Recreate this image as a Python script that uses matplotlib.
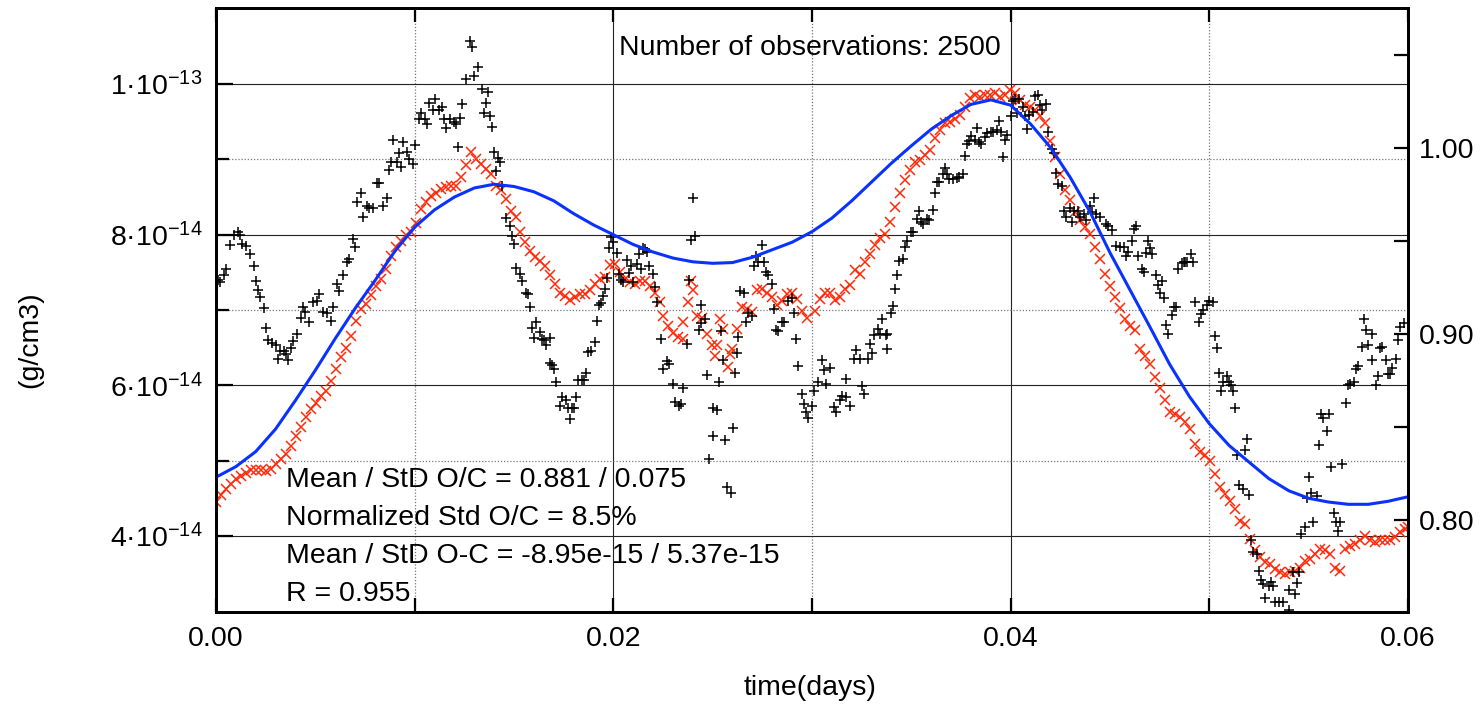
import numpy as np
import matplotlib
matplotlib.use('Agg')
import matplotlib.pyplot as plt

plt.rcParams['font.family'] = ['Liberation Sans', 'DejaVu Sans']
plt.rcParams['mathtext.fontset'] = 'custom'
plt.rcParams['mathtext.rm'] = 'Liberation Sans'
plt.rcParams['mathtext.it'] = 'Liberation Sans:italic'
plt.rcParams['mathtext.bf'] = 'Liberation Sans:bold'

UNIT = 1e-14  # density values below are in units of 1e-14 g/cm3

# ---- model (blue curve), sampled every 0.001 day ----
model_t = np.round(np.arange(61) * 0.001, 4)
model_v = [4.78, 4.92, 5.12, 5.42, 5.80, 6.20, 6.62, 7.02, 7.39, 7.78,
           8.10, 8.33, 8.50, 8.62, 8.67, 8.64, 8.57, 8.45, 8.28, 8.13,
           8.00, 7.87, 7.77, 7.69, 7.64, 7.62, 7.63, 7.70, 7.80, 7.90,
           8.04, 8.22, 8.45, 8.70, 8.95, 9.18, 9.40, 9.58, 9.73, 9.79,
           9.72, 9.47, 9.16, 8.76, 8.30, 7.76, 7.27, 6.78, 6.28, 5.85,
           5.49, 5.20, 4.98, 4.76, 4.60, 4.50, 4.45, 4.42, 4.42, 4.46,
           4.52]

# ---- fitted / scaled series (red x) ----
fit_t = [0.00000, 0.00025, 0.00050, 0.00076, 0.00101, 0.00126, 0.00151, 0.00176, 0.00201, 0.00227,
         0.00252, 0.00277, 0.00302, 0.00327, 0.00352, 0.00378, 0.00403, 0.00428, 0.00453, 0.00478,
         0.00503, 0.00529, 0.00554, 0.00579, 0.00604, 0.00629, 0.00654, 0.00680, 0.00705, 0.00730,
         0.00755, 0.00780, 0.00805, 0.00831, 0.00856, 0.00881, 0.00906, 0.00931, 0.00956, 0.00982,
         0.01007, 0.01032, 0.01057, 0.01082, 0.01107, 0.01133, 0.01158, 0.01183, 0.01208, 0.01233,
         0.01259, 0.01284, 0.01309, 0.01334, 0.01359, 0.01384, 0.01410, 0.01435, 0.01460, 0.01485,
         0.01510,
         0.01530, 0.01555, 0.01580, 0.01606, 0.01631, 0.01656, 0.01681, 0.01707, 0.01732, 0.01757,
         0.01782, 0.01807, 0.01832, 0.01858, 0.01883, 0.01908, 0.01933, 0.01958, 0.01983, 0.02009,
         0.02034, 0.02059, 0.02084, 0.02109, 0.02134, 0.02160, 0.02185, 0.02210, 0.02235, 0.02252,
         0.02277, 0.02302, 0.02327, 0.02353, 0.02353, 0.02378, 0.02390, 0.02400, 0.02420, 0.02445,
         0.02470, 0.02495, 0.02512, 0.02520, 0.02537, 0.02554, 0.02579, 0.02585, 0.02596, 0.02621,
         0.02646, 0.02671, 0.02697, 0.02722, 0.02747, 0.02772, 0.02797, 0.02822, 0.02848, 0.02873,
         0.02898, 0.02923, 0.02948, 0.02973,
         0.03015, 0.03040, 0.03066, 0.03091, 0.03116, 0.03141, 0.03166, 0.03192, 0.03217, 0.03242,
         0.03267, 0.03292, 0.03317, 0.03343, 0.03368, 0.03393, 0.03418, 0.03443, 0.03468, 0.03494,
         0.03519, 0.03544, 0.03569, 0.03594, 0.03620, 0.03645, 0.03670, 0.03695, 0.03720, 0.03745,
         0.03771, 0.03796, 0.03821, 0.03846, 0.03871, 0.03896, 0.03921, 0.03947, 0.03972, 0.03997,
         0.04022, 0.04047, 0.04072, 0.04098, 0.04123, 0.04148, 0.04173, 0.04198, 0.04223, 0.04249,
         0.04274, 0.04299, 0.04324, 0.04349, 0.04374, 0.04400, 0.04425, 0.04450, 0.04475,
         0.04500, 0.04525, 0.04550, 0.04576, 0.04601, 0.04626, 0.04651, 0.04676, 0.04702, 0.04727,
         0.04752, 0.04777, 0.04802, 0.04827, 0.04853, 0.04878, 0.04903, 0.04928, 0.04953, 0.04978,
         0.05004, 0.05029, 0.05054, 0.05079, 0.05104, 0.05129, 0.05155, 0.05180, 0.05205, 0.05230,
         0.05255, 0.05280, 0.05306, 0.05331, 0.05356, 0.05381, 0.05406, 0.05431, 0.05457, 0.05482,
         0.05507, 0.05532, 0.05557, 0.05582, 0.05608, 0.05633, 0.05658, 0.05683, 0.05708, 0.05734,
         0.05759, 0.05784, 0.05809, 0.05834, 0.05859, 0.05884, 0.05910, 0.05935, 0.05960, 0.05985,
         0.06000]
fit_v = [4.45, 4.54, 4.62, 4.69, 4.76, 4.80, 4.83, 4.87, 4.88, 4.87,
         4.86, 4.89, 4.96, 5.02, 5.09, 5.20, 5.33, 5.45, 5.58, 5.69,
         5.77, 5.86, 5.93, 6.06, 6.22, 6.37, 6.50, 6.66, 6.86, 7.01,
         7.08, 7.20, 7.32, 7.41, 7.54, 7.72, 7.84, 7.92, 7.99, 8.03,
         8.16, 8.34, 8.43, 8.52, 8.56, 8.61, 8.63, 8.65, 8.64, 8.76,
         8.92, 9.10, 9.01, 8.94, 8.87, 8.81, 8.65, 8.59, 8.47, 8.32,
         8.23,
         8.03, 7.90, 7.79, 7.70, 7.65, 7.59, 7.46, 7.35, 7.23, 7.19,
         7.13, 7.17, 7.21, 7.21, 7.27, 7.35, 7.41, 7.44, 7.60, 7.61,
         7.50, 7.41, 7.37, 7.34, 7.39, 7.39, 7.32, 7.23, 7.10, 6.92,
         6.79, 6.70, 6.64, 6.62, 6.84, 7.10, 7.39, 7.27, 6.92, 6.90,
         6.68, 6.53, 6.39, 6.54, 6.88, 6.75, 6.24, 6.42, 6.48, 6.75,
         7.04, 7.01, 6.97, 7.26, 7.28, 7.23, 7.17, 7.06, 7.12, 7.21,
         7.23, 7.15, 6.99, 6.90,
         6.99, 7.15, 7.22, 7.22, 7.13, 7.17, 7.28, 7.33, 7.53, 7.48,
         7.64, 7.75, 7.86, 7.95, 8.01, 8.17, 8.37, 8.55, 8.72, 8.86,
         8.97, 8.99, 9.06, 9.12, 9.28, 9.39, 9.48, 9.50, 9.54, 9.59,
         9.70, 9.81, 9.85, 9.83, 9.85, 9.85, 9.88, 9.83, 9.85, 9.92,
         9.88, 9.79, 9.72, 9.70, 9.65, 9.57, 9.48, 9.25, 9.03, 8.81,
         8.59, 8.46, 8.30, 8.19, 8.10, 8.01, 7.84, 7.68, 7.48,
         7.32, 7.17, 7.03, 6.88, 6.79, 6.73, 6.48, 6.39, 6.28, 6.11,
         5.97, 5.80, 5.64, 5.62, 5.58, 5.51, 5.42, 5.22, 5.11, 5.07,
         5.00, 4.82, 4.65, 4.56, 4.47, 4.36, 4.20, 4.16, 3.96, 3.81,
         3.72, 3.65, 3.63, 3.56, 3.52, 3.50, 3.52, 3.54, 3.58, 3.67,
         3.69, 3.76, 3.83, 3.81, 3.76, 3.58, 3.54, 3.83, 3.87, 3.89,
         3.94, 4.00, 3.94, 3.92, 3.94, 3.94, 3.94, 3.98, 4.05, 4.09,
         4.12]

# ---- observations (black +) ----
obs_t = [0.0001, 0.0002, 0.0004, 0.0005, 0.0007, 0.0009, 0.0011, 0.0012, 0.0013, 0.0015,
         0.0017, 0.0019, 0.0020, 0.0021, 0.0022, 0.0024, 0.0025, 0.0026, 0.0028, 0.0030,
         0.0031, 0.0032, 0.0034, 0.0035, 0.0036, 0.0038, 0.0039, 0.0041, 0.0043, 0.0044,
         0.0045, 0.0047, 0.0049, 0.0051, 0.0052, 0.0054, 0.0056, 0.0058, 0.0059, 0.0061,
         0.0062, 0.0064, 0.0066, 0.0067, 0.0069, 0.0070, 0.0071, 0.0073, 0.0074, 0.0076,
         0.0077, 0.0079, 0.0081, 0.0082, 0.0084, 0.0086, 0.0087, 0.0088, 0.0089, 0.0091,
         0.0092, 0.0093, 0.0094, 0.0096, 0.0097, 0.0099, 0.0100, 0.0102, 0.0103, 0.0105,
         0.0106, 0.0107, 0.0109, 0.0110, 0.0112, 0.0114, 0.0115, 0.0116, 0.0118, 0.0120,
         0.0121, 0.0122, 0.0123, 0.0124, 0.0126, 0.0128, 0.0129, 0.0130, 0.0132, 0.0134,
         0.0135, 0.0136, 0.0137, 0.0138, 0.0139, 0.0140, 0.0141, 0.0142, 0.0143, 0.0144,
         0.0146, 0.0148, 0.0149, 0.0150, 0.0151,
         0.0153, 0.0154, 0.0156, 0.0157, 0.0158, 0.0159, 0.0160, 0.0161, 0.0163, 0.0164,
         0.0165, 0.0166, 0.0168, 0.0168, 0.0169, 0.0170, 0.0171, 0.0173, 0.0174, 0.0176,
         0.0177, 0.0178, 0.0179, 0.0180, 0.0181, 0.0182, 0.0184, 0.0185, 0.0186, 0.0187,
         0.0189, 0.0191, 0.0192, 0.0193, 0.0194, 0.0195, 0.0196, 0.0197, 0.0198, 0.0199,
         0.0200, 0.0202, 0.0203, 0.0204, 0.0205, 0.0207, 0.0208, 0.0209, 0.0210, 0.0212,
         0.0213, 0.0214, 0.0215, 0.0216, 0.0217, 0.0218, 0.0220, 0.0221, 0.0222, 0.0224,
         0.0225, 0.0227, 0.0228, 0.0230, 0.0231, 0.0233, 0.0234, 0.0235, 0.0237, 0.0238,
         0.0239, 0.0240, 0.0241, 0.0243, 0.0244, 0.0244, 0.0246, 0.0247, 0.0248, 0.0250,
         0.0250, 0.0252, 0.0253, 0.0254, 0.0255, 0.0256, 0.0257, 0.0259, 0.0260, 0.0261,
         0.0262, 0.0263, 0.0264, 0.0266, 0.0267, 0.0268, 0.0270, 0.0271, 0.0272, 0.0273,
         0.0275, 0.0276, 0.0277, 0.0278, 0.0280, 0.0281, 0.0282, 0.0283, 0.0285, 0.0286,
         0.0288, 0.0290, 0.0291, 0.0292, 0.0293, 0.0295, 0.0296, 0.0297, 0.0298, 0.0300,
         0.0301,
         0.0303, 0.0305, 0.0306, 0.0307, 0.0309, 0.0311, 0.0312, 0.0314, 0.0315, 0.0317,
         0.0317, 0.0319, 0.0321, 0.0322, 0.0324, 0.0325, 0.0326, 0.0328, 0.0329, 0.0330,
         0.0331, 0.0333, 0.0334, 0.0335, 0.0337, 0.0338, 0.0338, 0.0340, 0.0341, 0.0342,
         0.0343, 0.0344, 0.0346, 0.0347, 0.0348, 0.0350, 0.0351, 0.0353, 0.0354, 0.0355,
         0.0356, 0.0358, 0.0359, 0.0361, 0.0362, 0.0363, 0.0364, 0.0366, 0.0367, 0.0368,
         0.0369, 0.0371, 0.0373, 0.0374, 0.0376, 0.0377, 0.0378, 0.0379, 0.0380, 0.0382,
         0.0383, 0.0384, 0.0385, 0.0387, 0.0388, 0.0390, 0.0391, 0.0393, 0.0394, 0.0395,
         0.0396, 0.0397, 0.0398, 0.0400, 0.0401, 0.0402, 0.0403, 0.0404, 0.0406, 0.0407,
         0.0408, 0.0409, 0.0411, 0.0412, 0.0414, 0.0415, 0.0416, 0.0418, 0.0419, 0.0421,
         0.0422, 0.0423, 0.0424, 0.0426, 0.0427, 0.0428, 0.0430, 0.0431, 0.0432, 0.0434,
         0.0435, 0.0437, 0.0438, 0.0440, 0.0441, 0.0442, 0.0443, 0.0445,
         0.0448, 0.0449, 0.0451, 0.0453, 0.0455, 0.0457, 0.0458, 0.0459, 0.0461, 0.0462,
         0.0463, 0.0464, 0.0466, 0.0467, 0.0468, 0.0469, 0.0470, 0.0471, 0.0473, 0.0474,
         0.0475, 0.0476, 0.0477, 0.0478, 0.0479, 0.0481, 0.0482, 0.0483, 0.0484, 0.0486,
         0.0487, 0.0488, 0.0489, 0.0491, 0.0492, 0.0493, 0.0495, 0.0496, 0.0497, 0.0499,
         0.0500, 0.0502, 0.0503, 0.0504, 0.0505, 0.0506, 0.0507, 0.0509, 0.0510, 0.0511,
         0.0512, 0.0513, 0.0514, 0.0515, 0.0517, 0.0518, 0.0519, 0.0520, 0.0521, 0.0522,
         0.0524, 0.0525, 0.0526, 0.0527, 0.0528, 0.0530, 0.0531, 0.0532, 0.0533, 0.0535,
         0.0537, 0.0540, 0.0540, 0.0542, 0.0543, 0.0544, 0.0545, 0.0546, 0.0548, 0.0549,
         0.0550, 0.0551, 0.0552, 0.0554, 0.0555, 0.0556, 0.0557, 0.0559, 0.0560, 0.0561,
         0.0563, 0.0564, 0.0565, 0.0566, 0.0567, 0.0569, 0.0570, 0.0571, 0.0573, 0.0574,
         0.0575, 0.0577, 0.0578, 0.0579, 0.0580, 0.0582, 0.0582, 0.0584, 0.0585, 0.0586,
         0.0587, 0.0589, 0.0590, 0.0591, 0.0592, 0.0594, 0.0595, 0.0596, 0.0598]
obs_v = [7.40, 7.37, 7.46, 7.55, 7.86, 8.00, 8.03, 8.00, 7.88, 7.85,
         7.75, 7.59, 7.38, 7.27, 7.17, 7.02, 6.76, 6.60, 6.56, 6.54,
         6.35, 6.46, 6.46, 6.41, 6.33, 6.50, 6.59, 6.68, 6.89, 7.04,
         6.98, 6.84, 7.10, 7.12, 7.21, 6.98, 6.96, 6.86, 7.04, 7.34,
         7.25, 7.47, 7.64, 7.68, 7.94, 7.84, 8.44, 8.56, 8.24, 8.38,
         8.35, 8.35, 8.69, 8.69, 8.38, 8.49, 8.86, 8.96, 9.26, 8.96,
         9.09, 8.90, 9.23, 9.10, 9.00, 8.94, 9.19, 9.54, 9.62, 9.53,
         9.47, 9.75, 9.65, 9.80, 9.66, 9.69, 9.54, 9.42, 9.53, 9.49,
         9.47, 9.16, 9.55, 9.73, 10.07, 10.57, 10.49, 10.11, 10.23, 9.94,
         9.61, 9.75, 9.89, 9.58, 9.43, 9.10, 8.84, 9.02, 8.96, 8.64,
         8.22, 8.11, 7.98, 7.88, 7.56,
         7.48, 7.38, 7.22, 7.21, 7.04, 6.76, 6.63, 6.84, 6.71, 6.62,
         6.60, 6.54, 6.63, 6.30, 6.27, 6.22, 6.04, 5.72, 5.85, 5.80,
         5.70, 5.55, 5.70, 5.70, 5.84, 6.07, 6.07, 6.07, 6.17, 6.44,
         6.46, 6.58, 6.86, 7.07, 7.09, 7.18, 7.28, 7.43, 7.82, 7.97,
         7.90, 7.76, 7.48, 7.40, 7.37, 7.67, 7.49, 7.58, 7.37, 7.61,
         7.75, 7.54, 7.82, 7.81, 7.77, 7.59, 7.48, 7.31, 7.10, 6.62,
         6.22, 6.32, 6.28, 6.02, 5.78, 5.72, 5.75, 5.97, 6.55, 7.40,
         7.93, 8.49, 7.98, 6.74, 6.83, 7.06, 6.88, 6.14, 5.02, 5.33,
         5.70, 5.67, 6.04, 6.72, 6.34, 5.27, 4.65, 4.57, 5.43, 6.16,
         6.43, 6.64, 7.25, 7.22, 6.84, 6.96, 6.92, 7.58, 7.72, 7.64,
         7.86, 7.64, 7.51, 7.47, 7.34, 7.01, 6.74, 6.72, 6.84, 6.84,
         7.12, 7.16, 6.96, 6.62, 6.25, 5.88, 5.75, 5.64, 5.56, 5.72,
         5.93,
         6.04, 6.33, 6.20, 6.02, 6.23, 5.71, 5.64, 5.80, 5.86, 6.09,
         5.85, 5.72, 6.35, 6.47, 6.35, 5.99, 5.88, 6.35, 6.55, 6.43,
         6.67, 6.75, 6.68, 6.88, 6.67, 6.48, 6.68, 6.96, 7.05, 7.28,
         7.46, 7.65, 7.68, 7.84, 7.91, 8.03, 8.03, 8.21, 8.32, 8.17,
         8.14, 8.21, 8.19, 8.33, 8.56, 8.70, 8.70, 8.80, 8.88, 8.81,
         8.74, 8.74, 8.75, 8.77, 8.80, 9.05, 9.21, 9.24, 9.31, 9.26,
         9.42, 9.23, 9.21, 9.30, 9.35, 9.36, 9.36, 9.39, 9.51, 9.37,
         9.03, 9.26, 9.32, 9.58, 9.77, 9.80, 9.61, 9.80, 9.69, 9.57,
         9.40, 9.59, 9.63, 9.84, 9.85, 9.72, 9.66, 9.74, 9.36, 9.14,
         9.09, 8.82, 8.67, 8.65, 8.31, 8.24, 8.35, 8.17, 8.32, 8.32,
         8.23, 8.27, 8.19, 8.38, 8.30, 8.49, 8.27, 8.23,
         8.14, 8.11, 8.06, 7.85, 7.84, 7.84, 7.72, 7.77, 7.91, 8.07,
         8.12, 7.72, 7.54, 7.51, 7.76, 7.91, 7.82, 7.75, 7.46, 7.33,
         7.23, 7.39, 7.16, 6.80, 6.68, 6.93, 7.04, 7.04, 7.54, 7.62,
         7.64, 7.64, 7.64, 7.75, 7.64, 7.10, 6.84, 6.95, 7.00, 7.06,
         7.12, 7.10, 6.65, 6.49, 6.16, 5.92, 6.04, 6.12, 6.04, 6.01,
         5.92, 5.70, 5.08, 4.67, 4.62, 5.14, 5.29, 4.55, 3.94, 3.79,
         3.76, 3.54, 3.41, 3.36, 3.18, 3.33, 3.39, 3.33, 3.12, 3.12,
         3.12, 3.02, 3.28, 3.52, 3.23, 3.38, 3.52, 4.02, 4.12, 4.51,
         4.78, 4.57, 4.18, 4.53, 5.21, 5.62, 5.56, 5.39, 5.62, 4.91,
         4.31, 4.18, 4.07, 4.18, 4.96, 5.76, 6.00, 6.02, 6.04, 6.21,
         6.25, 6.51, 6.88, 6.74, 6.54, 6.68, 6.33, 6.00, 6.13, 6.49,
         6.51, 6.34, 6.15, 6.15, 6.23, 6.35, 6.60, 6.77, 6.83]

left_ticks = [4e-14, 6e-14, 8e-14, 1e-13]
left_minor = [5e-14, 7e-14, 9e-14]
x_major = [0.0, 0.02, 0.04, 0.06]
x_minor = [0.01, 0.03, 0.05]
right_ticks = [0.80, 0.85, 0.90, 0.95, 1.00, 1.05]
right_labels = ['0.80', '', '0.90', '', '1.00', '']

stats_lines = ['Mean / StD O/C = 0.881 / 0.075',
               'Normalized Std O/C = 8.5%',
               'Mean / StD O-C = -8.95e-15 / 5.37e-15',
               'R = 0.955']
title_text = 'Number of observations: 2500'

# ---------------- figure ----------------
W, H = 1483, 704
FS = 20.5
fig = plt.figure(figsize=(W / 100, H / 100), dpi=100)
L, R, T, B = 216, 1408, 8, 612
ax = fig.add_axes([L / W, 1 - B / H, (R - L) / W, (B - T) / H])
ax.set_xlim(0, 0.06)
ax.set_ylim(2.99e-14, 1.101e-13)


def sci_label(v):
    e = int(np.floor(np.log10(v) + 1e-9))
    m = v / 10 ** e
    return '$%d·10^{%d}$' % (round(m), e)


ax.set_xticks(x_major)
ax.set_xticklabels(['%.2f' % v for v in x_major])
ax.set_xticks(x_minor, minor=True)
ax.set_yticks(left_ticks)
ax.set_yticklabels([sci_label(v) for v in left_ticks])
ax.set_yticks(left_minor, minor=True)

ax.grid(which='major', color='#222222', lw=0.8, ls='-', zorder=0)
ax.grid(which='minor', color='#777777', lw=0.9, ls=(0, (1, 1.5)), zorder=0)
ax.set_axisbelow(True)

ax.tick_params(axis='x', which='both', direction='in', length=10, width=1.6,
               top=True, bottom=True, labelsize=FS, pad=10)
ax.tick_params(axis='y', which='major', direction='in', length=12, width=1.6,
               left=True, right=False, labelsize=FS, pad=10)
ax.tick_params(axis='y', which='minor', direction='in', length=9, width=1.6,
               left=True, right=False)
for s in ax.spines.values():
    s.set_linewidth(2.0)

ax.plot(fit_t, np.array(fit_v) * UNIT, ls='none', marker='x', ms=6.5, mew=1.1,
        color='#ff2a0a', zorder=3)
ax.plot(obs_t, np.array(obs_v) * UNIT, ls='none', marker='+', ms=6.5, mew=1.1,
        color='black', zorder=4)
ax.plot(model_t, np.array(model_v) * UNIT, color='#0a32ff', lw=2.2, zorder=5)

ax2 = ax.twinx()
ax2.set_ylim(0.7505, 1.0753)
ax2.set_yticks(right_ticks)
ax2.set_yticklabels(right_labels)
ax2.tick_params(axis='y', direction='in', length=10, width=1.6, labelsize=FS, pad=8)
for s in ax2.spines.values():
    s.set_linewidth(2.0)

fig.text(30 / W, 1 - 340 / H, '(g/cm3)', rotation=90, ha='center', va='center', fontsize=FS)
fig.text(810 / W, 1 - 688 / H, 'time(days)', ha='center', va='center', fontsize=FS)
fig.text(810 / W, 1 - 48 / H, title_text, ha='center', va='center', fontsize=FS)
for i, line in enumerate(stats_lines):
    y = 480 + i * 38
    fig.text(286 / W, 1 - y / H, line, ha='left', va='center', fontsize=FS)

fig.savefig('out.png', dpi=100)
